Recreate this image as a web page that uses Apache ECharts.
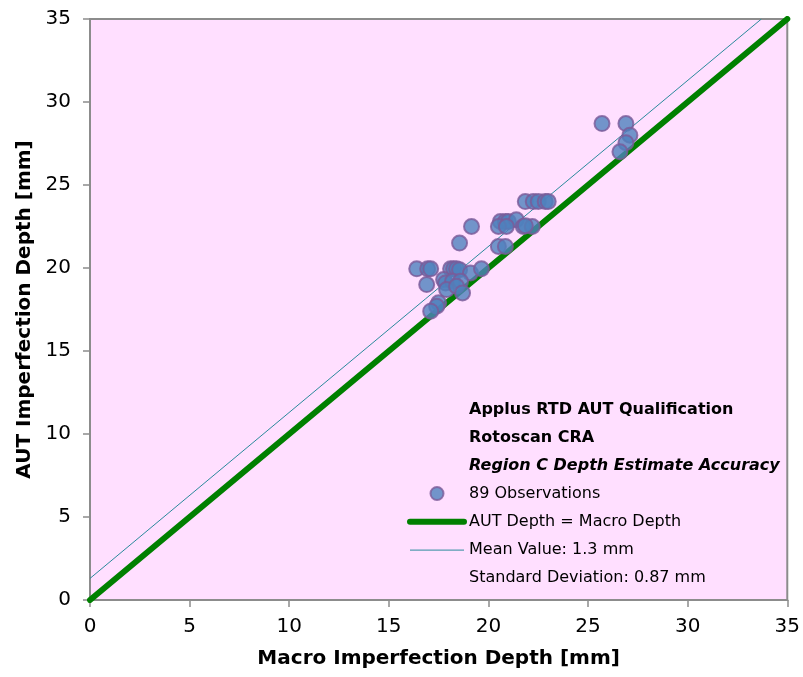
<!DOCTYPE html>
<html>
<head>
<meta charset="utf-8">
<script src="https://cdn.jsdelivr.net/npm/echarts@6/dist/echarts.min.js"></script>
<style>
  html, body { margin: 0; padding: 0; background: #ffffff; }
  #chart { width: 803px; height: 677px; }
</style>
</head>
<body>
<div id="chart"></div>
<script>
// Macro depth [mm] vs AUT-estimated depth [mm] for each observation
const observations = [
  [16.4, 19.95], [16.95, 19.95], [17.1, 19.95], [18.1, 19.95], [18.25, 19.95],
  [18.4, 19.95], [18.55, 19.9], [19.1, 19.7], [19.65, 19.95],
  [16.9, 19.0], [17.75, 19.3], [17.85, 19.1], [18.2, 19.2], [18.6, 19.2],
  [17.9, 18.7], [18.4, 18.9], [18.7, 18.5], [17.5, 17.9], [17.4, 17.7], [17.1, 17.4],
  [19.15, 22.5], [18.55, 21.5],
  [21.85, 24.0], [22.25, 24.0], [22.5, 24.0], [22.85, 24.0], [23.0, 24.0],
  [20.6, 22.8], [20.85, 22.8], [21.0, 22.8], [21.4, 22.9],
  [20.5, 22.5], [20.9, 22.5], [21.75, 22.5], [22.2, 22.5], [21.85, 22.55],
  [20.5, 21.3], [20.85, 21.3],
  [25.7, 28.7], [26.9, 28.7], [27.1, 28.0], [26.9, 27.55], [26.6, 27.0]
];

// Reference line AUT = Macro, and the mean-offset line (+1.3 mm)
const equalityLine = [[0, 0], [35, 35]];
const meanOffsetLine = [[0, 1.3], [33.7, 35]];

const axisMin = 0;
const axisMax = 35;
const axisStep = 5;

const legendHeader = [
  { text: 'Applus RTD AUT Qualification', italic: false },
  { text: 'Rotoscan CRA', italic: false },
  { text: 'Region C Depth Estimate Accuracy', italic: true }
];
const seriesNames = ['89 Observations', 'AUT Depth = Macro Depth', 'Mean Value: 1.3 mm'];
const footerNote = 'Standard Deviation: 0.87 mm';

const FONT = 'DejaVu Sans, Verdana, sans-serif';
const chart = echarts.init(document.getElementById('chart'), null, { renderer: 'canvas' });

const axisCommon = {
  type: 'value',
  min: axisMin,
  max: axisMax,
  interval: axisStep,
  splitLine: { show: false },
  axisLine: { show: true, onZero: false, lineStyle: { color: '#8c8c8c', width: 2 } },
  axisTick: { show: true, inside: false, length: 7, lineStyle: { color: '#8c8c8c', width: 1.5 } },
  axisLabel: { color: '#000', fontSize: 20, fontFamily: FONT },
  nameTextStyle: { color: '#000', fontSize: 20, fontWeight: 'bold', fontFamily: FONT }
};

const headerGraphics = legendHeader.map((h, i) => ({
  type: 'text',
  left: 469,
  top: 402 + i * 27.7,
  style: {
    text: h.text,
    font: (h.italic ? 'italic ' : '') + 'bold 16px ' + FONT,
    fill: '#000'
  }
}));

chart.setOption({
  animation: false,
  backgroundColor: '#ffffff',
  grid: {
    left: 90, right: 13, top: 19, bottom: 77,
    show: true,
    backgroundColor: '#ffdfff',
    borderColor: '#8c8c8c',
    borderWidth: 2
  },
  xAxis: Object.assign({}, axisCommon, {
    name: 'Macro Imperfection Depth [mm]',
    nameLocation: 'middle',
    nameGap: 49,
    axisLabel: Object.assign({}, axisCommon.axisLabel, { margin: 17 })
  }),
  yAxis: Object.assign({}, axisCommon, {
    name: 'AUT Imperfection Depth [mm]',
    nameLocation: 'middle',
    nameGap: 50,
    axisLabel: Object.assign({}, axisCommon.axisLabel, { margin: 19 })
  }),
  legend: {
    orient: 'vertical',
    left: 402,
    top: 480.5,
    itemWidth: 54,
    itemHeight: 13,
    itemGap: 12.3,
    textStyle: { color: '#000', fontSize: 16, fontFamily: FONT },
    data: [
      { name: seriesNames[0], icon: 'circle' },
      { name: seriesNames[1], itemStyle: { opacity: 0 }, lineStyle: { width: 6, cap: 'round', color: '#008000' } },
      { name: seriesNames[2], itemStyle: { opacity: 0 }, lineStyle: { width: 1, color: '#2a8a9c' } }
    ]
  },
  graphic: headerGraphics.concat([{
    type: 'text',
    left: 469,
    top: 570,
    style: { text: footerNote, font: '16px ' + FONT, fill: '#000' }
  }]),
  series: [
    {
      name: seriesNames[1],
      type: 'line',
      data: equalityLine,
      symbol: 'none',
      lineStyle: { color: '#008000', width: 6, cap: 'round' },
      itemStyle: { color: '#008000' },
      z: 2
    },
    {
      name: seriesNames[2],
      type: 'line',
      data: meanOffsetLine,
      symbol: 'none',
      lineStyle: { color: '#2a8a9c', width: 1 },
      itemStyle: { color: '#2a8a9c' },
      z: 3
    },
    {
      name: seriesNames[0],
      type: 'scatter',
      data: observations,
      symbol: 'circle',
      symbolSize: 15,
      itemStyle: { color: '#4f81bd', borderColor: '#7a5a98', borderWidth: 2 },
      z: 4
    }
  ]
});
</script>
</body>
</html>
